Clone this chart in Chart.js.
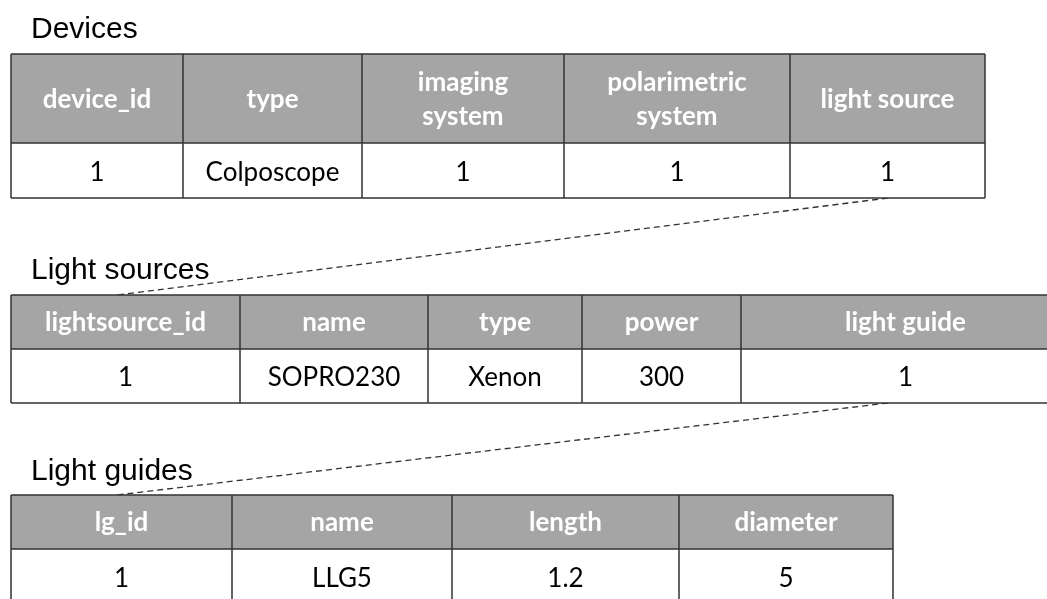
<!DOCTYPE html>
<html>
<head>
<meta charset="utf-8">
<script src="https://cdn.jsdelivr.net/npm/chart.js@4.4.0/dist/chart.umd.min.js"></script>
<style>
  html, body { margin: 0; padding: 0; background: #fff; }
  #wrap { width: 1047px; height: 599px; }
</style>
</head>
<body>
<div id="wrap"><canvas id="tablesChart" width="1047" height="599"></canvas></div>
<script>
// table contents
var tableTitles = ["Devices", "Light sources", "Light guides"];

var deviceHeaders = ["device_id", "type", "imaging\nsystem", "polarimetric\nsystem", "light source"];
var deviceRow = ["1", "Colposcope", "1", "1", "1"];

var lightSourceHeaders = ["lightsource_id", "name", "type", "power", "light guide"];
var lightSourceRow = ["1", "SOPRO230", "Xenon", "300", "1"];

var lightGuideHeaders = ["lg_id", "name", "length", "diameter"];
var lightGuideRow = ["1", "LLG5", "1.2", "5"];

// layout (page units, mapped through the hidden linear scales)
var layout = [
  { cols: [11, 183, 362, 564, 790, 985], top: 54, mid: 143, bottom: 198, titleY: 38 },
  { cols: [11, 240, 428, 582, 741, 1070], top: 295, mid: 349, bottom: 403, titleY: 279 },
  { cols: [11, 232, 452, 679, 893], top: 495, mid: 549, bottom: 604, titleY: 480 }
];
// dashed foreign-key links between tables
var links = [
  { from: 0, x: 888, to: 1, toX: 117 },
  { from: 1, x: 888, to: 2, toX: 117 }
];

var headers = [deviceHeaders, lightSourceHeaders, lightGuideHeaders];
var rows = [deviceRow, lightSourceRow, lightGuideRow];

var tablePlugin = {
  id: "tables",
  afterDraw: function (chart) {
    var ctx = chart.ctx;
    var sx = chart.scales.x, sy = chart.scales.y;
    var X = function (v) { return sx.getPixelForValue(v); };
    var Y = function (v) { return sy.getPixelForValue(v); };
    ctx.save();

    // titles
    ctx.fillStyle = "#000";
    ctx.font = "30px 'Liberation Sans', Arial, sans-serif";
    ctx.textAlign = "left";
    ctx.textBaseline = "alphabetic";
    tableTitles.forEach(function (t, i) {
      ctx.fillText(t, X(31), Y(layout[i].titleY));
    });

    // dashed connectors
    ctx.strokeStyle = "#333";
    ctx.lineWidth = 1.3;
    ctx.setLineDash([6, 4]);
    links.forEach(function (l) {
      ctx.beginPath();
      ctx.moveTo(X(l.x), Y(layout[l.from].bottom));
      ctx.lineTo(X(l.toX), Y(layout[l.to].top));
      ctx.stroke();
    });
    ctx.setLineDash([]);

    // tables
    layout.forEach(function (t, i) {
      var c = t.cols;
      var left = X(c[0]), right = X(c[c.length - 1]);
      ctx.fillStyle = "#a5a5a5";
      ctx.fillRect(left, Y(t.top), right - left, Y(t.mid) - Y(t.top));
      ctx.fillStyle = "#fff";
      ctx.fillRect(left, Y(t.mid), right - left, Y(t.bottom) - Y(t.mid));

      ctx.textAlign = "center";
      ctx.textBaseline = "middle";
      for (var k = 0; k < c.length - 1; k++) {
        var cx = (X(c[k]) + X(c[k + 1])) / 2;
        // header cell
        ctx.fillStyle = "#fff";
        ctx.font = "bold 26px Lato, 'Open Sans', sans-serif";
        var lines = headers[i][k].split("\n");
        var hy = (Y(t.top) + Y(t.mid)) / 2 + 1;
        lines.forEach(function (ln, j) {
          ctx.fillText(ln, cx, hy + (j - (lines.length - 1) / 2) * 34);
        });
        // data cell
        ctx.fillStyle = "#000";
        ctx.font = "26px Lato, 'Open Sans', sans-serif";
        ctx.fillText(rows[i][k], cx, (Y(t.mid) + Y(t.bottom)) / 2 + 2);
      }

      // grid lines
      ctx.strokeStyle = "#333";
      ctx.lineWidth = 1.5;
      ctx.beginPath();
      [t.top, t.mid, t.bottom].forEach(function (yv) {
        ctx.moveTo(left, Y(yv));
        ctx.lineTo(right, Y(yv));
      });
      c.forEach(function (xv) {
        ctx.moveTo(X(xv), Y(t.top));
        ctx.lineTo(X(xv), Y(t.bottom));
      });
      ctx.stroke();
    });
    ctx.restore();
  }
};

var ctx = document.getElementById("tablesChart").getContext("2d");
var tablesChart = new Chart(ctx, {
  type: "scatter",
  data: { datasets: [{ data: [] }] },
  options: {
    responsive: false,
    animation: false,
    layout: { padding: 0 },
    scales: {
      x: { type: "linear", min: 0, max: 1047, display: false },
      y: { type: "linear", min: 0, max: 599, reverse: true, display: false }
    },
    plugins: {
      legend: { display: false },
      tooltip: { enabled: false }
    }
  },
  plugins: [tablePlugin]
});
</script>
</body>
</html>
